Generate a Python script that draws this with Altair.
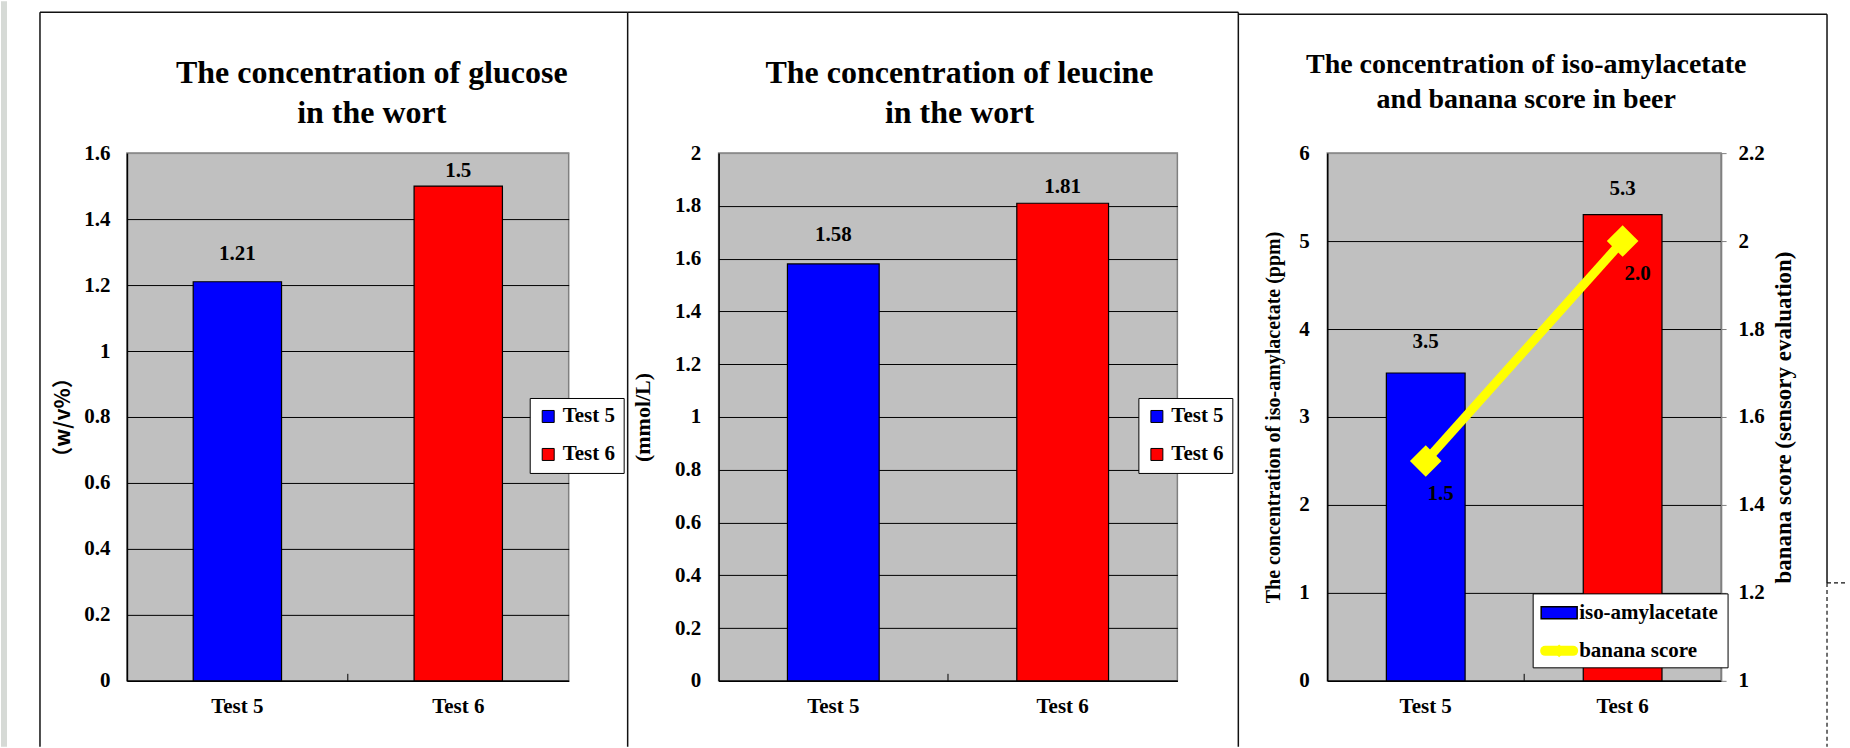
import altair as alt
import pandas as pd

FONT = "Liberation Serif"

# ---------------- data ----------------
categories = ["Test 5", "Test 6"]
bar_colors = ["#0000FF", "#FF0000"]

glucose = [1.21, 1.5]
leucine = [1.58, 1.81]
isoamyl = [3.5, 5.3]
banana = [1.5, 2.0]

glucose_ticks = [0, 0.2, 0.4, 0.6, 0.8, 1, 1.2, 1.4, 1.6]
leucine_ticks = [0, 0.2, 0.4, 0.6, 0.8, 1, 1.2, 1.4, 1.6, 1.8, 2]
isoamyl_ticks = [0, 1, 2, 3, 4, 5, 6]
banana_ticks = [1, 1.2, 1.4, 1.6, 1.8, 2, 2.2]

title1 = ["The concentration of glucose", "in the wort"]
title2 = ["The concentration of leucine", "in the wort"]
title3 = ["The concentration of iso-amylacetate", "and banana score in beer"]
ytitle1 = "（w/v%）"
ytitle2 = "(mmol/L)"
ytitle3 = "The concentration of iso-amylacetate (ppm)"
ytitle3r = "banana score (sensory evaluation)"
legend3 = ["iso-amylacetate", "banana score"]

# ---------------- helpers ----------------
H = 528
GRID_TOP = "#8C8C8C"
one = pd.DataFrame({"k": [0]})


def rule(x, x2, y, y2, width=1.5, dash=None, color="#111111"):
    kw = dict(color=color, strokeWidth=width)
    if dash:
        kw["strokeDash"] = dash
    return alt.Chart(one).mark_rule(**kw).encode(
        x=alt.value(x), x2=alt.value(x2), y=alt.value(y), y2=alt.value(y2)
    )


def title_text(lines, x, y, size, lh):
    return alt.Chart(one).mark_text(
        text=lines, font=FONT, fontSize=size, fontWeight="bold", color="black",
        align="center", baseline="alphabetic", lineHeight=lh,
    ).encode(x=alt.value(x), y=alt.value(y))


def x_enc():
    return alt.X(
        "cat:N", sort=categories, title=None,
        scale=alt.Scale(domain=categories, paddingInner=0, paddingOuter=0),
        axis=alt.Axis(labelAngle=0, ticks=False, labelPadding=15, domainColor="black",
                      domainWidth=1.5, grid=False, labelFont=FONT, labelFontSize=21,
                      labelFontWeight="bold", labelColor="black"),
    )


def x_plain():
    return alt.X("cat:N", sort=categories, title=None)


def y_left(field, ticks, title, tfont, tsize, tpad, lpad):
    ymax = ticks[-1]
    return alt.Y(
        f"{field}:Q", title=title,
        scale=alt.Scale(domain=[ticks[0], ymax], nice=False, zero=False),
        axis=alt.Axis(
            values=ticks, format="~g", ticks=False, labelPadding=lpad,
            domainColor="black", domainWidth=1.5, grid=True,
            gridColor={"condition": {"test": f"datum.value >= {ymax}", "value": GRID_TOP},
                       "value": "black"},
            gridWidth=1, labelFont=FONT, labelFontSize=21, labelFontWeight="bold",
            labelColor="black", titleFont=tfont, titleFontSize=tsize,
            titleFontWeight="bold", titleColor="black", titlePadding=tpad,
        ),
    )


def bar_labels(df, field, title, dys, fmt):
    out = []
    for cat, dy in zip(categories, dys):
        out.append(
            alt.Chart(df).transform_filter(alt.datum.cat == cat).mark_text(
                dy=dy, baseline="alphabetic", align="center", font=FONT, fontSize=21,
                fontWeight="bold", color="black",
            ).encode(
                x=x_plain(),
                y=alt.Y(f"{field}:Q", title=title),
                text=alt.Text(f"{field}:Q", format=fmt),
            )
        )
    return out


def mid_tick(df):
    return alt.Chart(df).transform_filter(alt.datum.cat == categories[1]).mark_rule(
        color="black", strokeWidth=1
    ).encode(
        x=alt.X("cat:N", sort=categories, title=None, bandPosition=0),
        y=alt.value(H - 7), y2=alt.value(H),
    )


def legend_at(x, y):
    return alt.Legend(
        title=None, orient="none", legendX=x, legendY=y, fillColor="white",
        strokeColor="black", padding=8, symbolType="square", symbolSize=144,
        symbolStrokeColor="black", symbolStrokeWidth=1, labelFont=FONT,
        labelFontSize=21, labelFontWeight="bold", labelColor="black",
        rowPadding=16, labelOffset=4,
    )


def bar_panel(values, field, ticks, W, ytitle, tfont, tsize, tpad, lpad,
              leg_x, dys, fmt):
    df = pd.DataFrame({"cat": categories, field: values})
    bars = alt.Chart(df).mark_bar(
        width=alt.RelativeBandSize(0.4), stroke="black", strokeWidth=1.2
    ).encode(
        x=x_enc(),
        y=y_left(field, ticks, ytitle, tfont, tsize, tpad, lpad),
        color=alt.Color("cat:N", scale=alt.Scale(domain=categories, range=bar_colors),
                        legend=legend_at(leg_x, 245)),
    )
    return df, [bars, mid_tick(df)] + bar_labels(df, field, ytitle, dys, fmt)


# ---------------- panel 1 ----------------
W1 = 442
df1, layers1 = bar_panel(glucose, "glucose", glucose_ticks, W1, ytitle1,
                         "Noto Sans CJK SC", 21, 10, 17, 403, [-22, -9], "~g")
p1 = alt.layer(
    *layers1,
    title_text(title1, 245, -70, 32, 40),
    alt.Chart(one).mark_rect(color="#D6DAD6").encode(
        x=alt.value(-126), x2=alt.value(-120), y=alt.value(-152), y2=alt.value(594)),
    rule(-87, 501, -141, -141),
    rule(-87, -87, -141, 594),
    rule(501, 501, -141, 594),
).properties(width=W1, height=H)

# ---------------- panel 2 ----------------
W2 = 459
df2, layers2 = bar_panel(leucine, "leucine", leucine_ticks, W2, ytitle2,
                         FONT, 22, 20, 18, 420, [-23, -10], "~g")
p2 = alt.layer(
    *layers2,
    title_text(title2, 241, -70, 32, 40),
    rule(-91, 520, -141, -141),
    rule(520, 520, -141, 594),
).properties(width=W2, height=H)

# ---------------- panel 3 ----------------
W3 = 394
df3 = pd.DataFrame({"cat": categories, "iso": isoamyl, "banana": banana})

bars3 = alt.Chart(df3).mark_bar(
    width=alt.RelativeBandSize(0.4), stroke="black", strokeWidth=1.2
).encode(
    x=x_enc(),
    y=y_left("iso", isoamyl_ticks, ytitle3, FONT, 20, 15, 18),
    color=alt.Color("cat:N", scale=alt.Scale(domain=categories, range=bar_colors),
                    legend=None),
)
left3 = alt.layer(bars3, mid_tick(df3), *bar_labels(df3, "iso", ytitle3, [-25, -20], "~g"))

y_right = alt.Y(
    "banana:Q", title=ytitle3r,
    scale=alt.Scale(domain=[banana_ticks[0], banana_ticks[-1]], nice=False, zero=False),
    axis=alt.Axis(
        orient="right", values=banana_ticks, format="~g", grid=False, tickSize=5,
        tickColor="#808080", domainColor="#808080", domainWidth=1.5, labelPadding=12,
        labelFont=FONT, labelFontSize=21, labelFontWeight="bold", labelColor="black",
        titleFont=FONT, titleFontSize=23, titleFontWeight="bold", titleColor="black",
        titleAngle=270, titleBaseline="top", titlePadding=8,
    ),
)
line3 = alt.Chart(df3).mark_line(color="#FFFF00", strokeWidth=9).encode(
    x=x_plain(), y=y_right)
pts3 = alt.Chart(df3).mark_point(
    shape="diamond", filled=True, size=1000, color="#FFFF00", opacity=1
).encode(x=x_plain(), y=alt.Y("banana:Q", title=ytitle3r))
blab3 = alt.Chart(df3).mark_text(
    dx=15, dy=39, baseline="alphabetic", align="center", font=FONT, fontSize=21,
    fontWeight="bold", color="black",
).encode(x=x_plain(), y=alt.Y("banana:Q", title=ytitle3r),
         text=alt.Text("banana:Q", format=".1f"))
right3 = alt.layer(line3, pts3, blab3)

# manual legend for the combined chart
leg_box = alt.Chart(one).mark_rect(fill="white", stroke="black", strokeWidth=1).encode(
    x=alt.value(206), x2=alt.value(401), y=alt.value(441), y2=alt.value(515))
leg_sym1 = alt.Chart(one).mark_rect(fill=bar_colors[0], stroke="black", strokeWidth=1.5).encode(
    x=alt.value(214), x2=alt.value(250), y=alt.value(454), y2=alt.value(466))
leg_sym2 = alt.Chart(one).mark_rule(color="#FFFF00", strokeWidth=10, strokeCap="round").encode(
    x=alt.value(218), x2=alt.value(246), y=alt.value(498), y2=alt.value(498))
leg_sym2b = alt.Chart(one).mark_point(shape="diamond", filled=True, size=160,
                                      color="#FFFF00", opacity=1).encode(
    x=alt.value(232), y=alt.value(498))
leg_txt1 = alt.Chart(one).mark_text(
    text=legend3[0], font=FONT, fontSize=21, fontWeight="bold", color="black",
    align="left", baseline="middle").encode(x=alt.value(252), y=alt.value(460))
leg_txt2 = alt.Chart(one).mark_text(
    text=legend3[1], font=FONT, fontSize=21, fontWeight="bold", color="black",
    align="left", baseline="middle").encode(x=alt.value(252), y=alt.value(498))

p3 = alt.layer(
    left3, right3,
    leg_box, leg_sym1, leg_sym2, leg_sym2b, leg_txt1, leg_txt2,
    title_text(title3, 199, -80, 28, 35),
    rule(-89, 500, -139, -139),
    rule(500, 500, -139, 430),
    rule(500, 500, 430, 594, width=1.2, dash=[4, 3]),
    rule(500, 521, 430, 430, width=1.2, dash=[4, 3]),
).resolve_scale(y="independent").properties(width=W3, height=H)

chart = alt.hconcat(p1, p2, p3, spacing=150, bounds="flush").resolve_scale(
    color="independent"
).resolve_legend(color="independent").configure_view(
    fill="#C0C0C0", stroke="#808080", strokeWidth=1.5
).properties(padding=0, background="white")

chart.save("out.html", embed_options={"renderer": "svg", "actions": False})
